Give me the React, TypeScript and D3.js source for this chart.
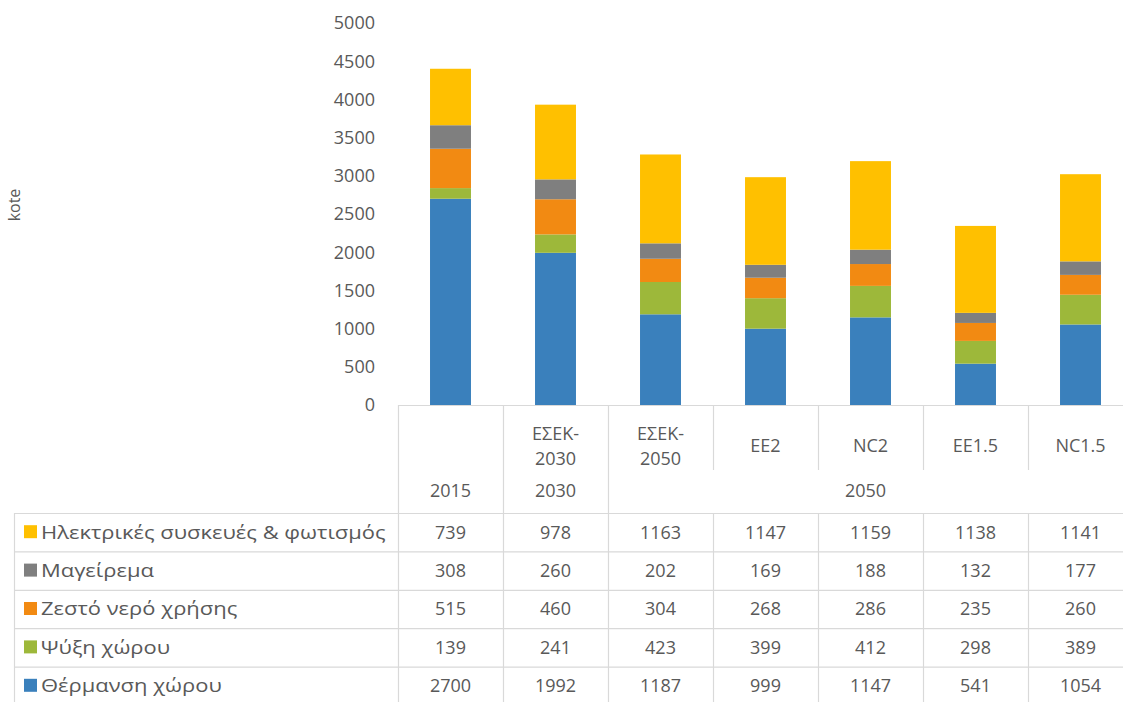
import React from "react";
import * as d3 from "d3";

const scenarios = ["2015", "ΕΣΕΚ-2030", "ΕΣΕΚ-2050", "EE2", "NC2", "EE1.5", "NC1.5"];
const scenarioLines = [[""], ["ΕΣΕΚ-", "2030"], ["ΕΣΕΚ-", "2050"], ["EE2"], ["NC2"], ["EE1.5"], ["NC1.5"]];
const yearGroups = [
  { label: "2015", from: 0, to: 0 },
  { label: "2030", from: 1, to: 1 },
  { label: "2050", from: 2, to: 6 },
];

const seriesNames = [
  "Θέρμανση χώρου",
  "Ψύξη χώρου",
  "Ζεστό νερό χρήσης",
  "Μαγείρεμα",
  "Ηλεκτρικές συσκευές & φωτισμός",
];
const heating = [2700, 1992, 1187, 999, 1147, 541, 1054];
const cooling = [139, 241, 423, 399, 412, 298, 389];
const hotWater = [515, 460, 304, 268, 286, 235, 260];
const cooking = [308, 260, 202, 169, 188, 132, 177];
const appliances = [739, 978, 1163, 1147, 1159, 1138, 1141];
const seriesValues = [heating, cooling, hotWater, cooking, appliances];
const seriesColors = ["#3A80BC", "#9DB83A", "#F28A12", "#7F7F7F", "#FFC000"];

const yTicks = [0, 500, 1000, 1500, 2000, 2500, 3000, 3500, 4000, 4500, 5000];
const yLabel = "kote";

export default function App() {
  const W = 1123, H = 702;
  const colW = 105;
  const x0 = 398;
  const x = d3.scaleBand<string>().domain(scenarios).range([x0, x0 + colW * scenarios.length]).paddingInner(0.61).paddingOuter(0.305);
  const y = d3.scaleLinear().domain([0, 5000]).range([405, 23]);

  const rows = scenarios.map((s, i) => {
    const o: any = { s };
    seriesNames.forEach((n, k) => (o[n] = seriesValues[k][i]));
    return o;
  });
  const stacked = d3.stack<any>().keys(seriesNames)(rows);

  const font = "'Open Sans', sans-serif";
  const txt = "#595959";
  const grid = "#D9D9D9";
  const fs = 18;
  const colLeft = (i: number) => x0 + i * colW;
  const colMid = (i: number) => x0 + i * colW + colW / 2;

  const tableTop = 513;
  const rowH = 38.4;
  const tableRows = [...seriesNames].reverse();

  return (
    <svg width={W} height={H} style={{ position: "absolute", left: 0, top: 0, background: "#fff" }} fontFamily={font}>
      {/* y axis labels */}
      {yTicks.map((t) => (
        <text key={t} x={375} y={y(t)} dy="0.35em" textAnchor="end" fontSize={fs} fill={txt}>{t}</text>
      ))}
      <text transform={`translate(20,205) rotate(-90)`} textAnchor="middle" fontSize={16} fill={txt}>{yLabel}</text>

      {/* bars */}
      {stacked.map((layer, k) => (
        <g key={k} fill={seriesColors[k]}>
          {layer.map((d, i) => (
            <rect key={i} x={x(scenarios[i])} width={x.bandwidth()} y={y(d[1])} height={y(d[0]) - y(d[1])} />
          ))}
        </g>
      ))}

      {/* table grid */}
      <g stroke={grid} strokeWidth={1.2} fill="none">
        <line x1={x0} x2={W} y1={405.5} y2={405.5} />
        {scenarios.map((s, i) => {
          const xl = colLeft(i) + 0.5;
          const full = i === 0 || i === 1 || i === 2;
          return <line key={s} x1={xl} x2={xl} y1={405} y2={full ? H : 470} />;
        })}
        {scenarios.map((s, i) => {
          if (i < 3) return null;
          const xl = colLeft(i) + 0.5;
          return <line key={"d" + s} x1={xl} x2={xl} y1={tableTop} y2={H} />;
        })}
        <line x1={14.5} x2={14.5} y1={tableTop} y2={H} />
        {tableRows.map((_, r) => (
          <line key={r} x1={14} x2={W} y1={tableTop + r * rowH + 0.5} y2={tableTop + r * rowH + 0.5} />
        ))}
      </g>

      {/* scenario header */}
      {scenarioLines.map((lines, i) =>
        lines.length === 2 ? (
          <g key={i}>
            <text x={colMid(i)} y={440} textAnchor="middle" fontSize={fs} fill={txt}>{lines[0]}</text>
            <text x={colMid(i)} y={465} textAnchor="middle" fontSize={fs} fill={txt}>{lines[1]}</text>
          </g>
        ) : (
          <text key={i} x={colMid(i)} y={452} textAnchor="middle" fontSize={fs} fill={txt}>{lines[0]}</text>
        )
      )}
      {yearGroups.map((g) => (
        <text key={g.label} x={(colLeft(g.from) + colLeft(g.to + 1)) / 2 - (g.to > g.from ? 5 : 0)} y={497} textAnchor="middle" fontSize={fs} fill={txt}>
          {g.label}
        </text>
      ))}

      {/* data rows */}
      {tableRows.map((name, r) => {
        const k = seriesNames.indexOf(name);
        const cy = tableTop + r * rowH + rowH / 2;
        return (
          <g key={name}>
            <rect x={24} y={cy - 7} width={13} height={13} fill={seriesColors[k]} />
            <text transform={`translate(41,${cy}) scale(1.22,1)`} dy="0.35em" fontSize={fs} fill={txt}>{name}</text>
            {seriesValues[k].map((v, i) => (
              <text key={i} x={colMid(i)} y={cy} dy="0.35em" textAnchor="middle" fontSize={fs} fill={txt}>{v}</text>
            ))}
          </g>
        );
      })}
    </svg>
  );
}
